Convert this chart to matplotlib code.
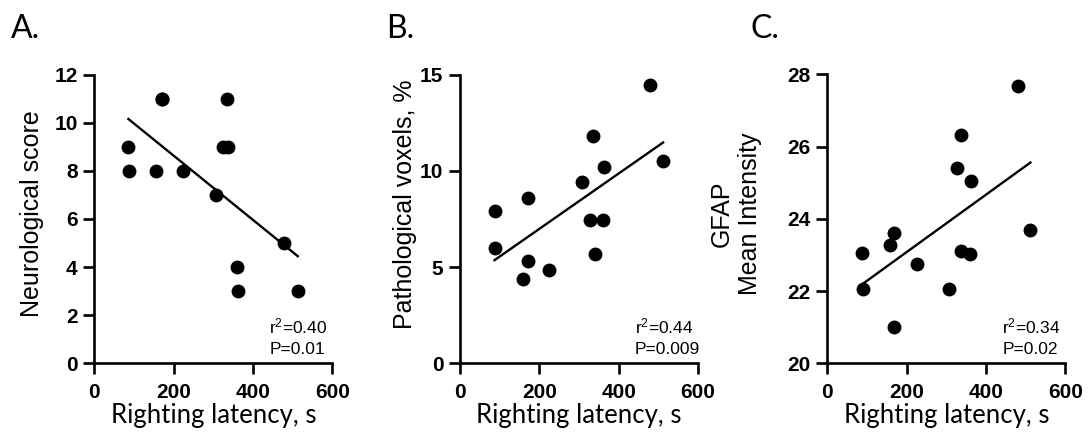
import numpy as np
import matplotlib
matplotlib.use("Agg")
import matplotlib.pyplot as plt

plt.rcParams["mathtext.fontset"] = "custom"
plt.rcParams["mathtext.rm"] = "Liberation Sans"
plt.rcParams["mathtext.it"] = "Liberation Sans"
plt.rcParams["mathtext.bf"] = "Liberation Sans:bold"

# ---- data ----
latency_a = [86, 88, 155, 170, 170, 224, 306, 325, 334, 337, 360, 362, 478, 513]
neuro_score = [9, 8, 8, 11, 11, 8, 7, 9, 11, 9, 4, 3, 5, 3]

latency_b = [87, 89, 158, 172, 172, 225, 308, 327, 336, 340, 361, 363, 480, 512]
path_voxels = [7.9, 6.0, 4.4, 8.6, 5.3, 4.85, 9.4, 7.45, 11.8, 5.7, 7.45, 10.2, 14.45, 10.5]

latency_c = [87, 89, 158, 169, 169, 227, 307, 326, 336, 337, 361, 363, 481, 512]
gfap = [23.05, 22.05, 23.27, 23.61, 21.0, 22.74, 22.05, 25.42, 26.32, 23.12, 23.03, 25.04, 27.67, 23.68]

panel_letters = ["A.", "B.", "C."]
y_labels = ["Neurological score", "Pathological voxels, %", "GFAP\nMean Intensity"]
x_label = "Righting latency, s"
stats = [("r$^{\\mathregular{2}}$=0.40", "P=0.01"),
         ("r$^{\\mathregular{2}}$=0.44", "P=0.009"),
         ("r$^{\\mathregular{2}}$=0.34", "P=0.02")]
x_ticks = [0, 200, 400, 600]
y_ticks = [[0, 2, 4, 6, 8, 10, 12], [0, 5, 10, 15], [20, 22, 24, 26, 28]]
y_lims = [(0, 12), (0, 15), (20, 28)]

W, H = 1088, 433
fig = plt.figure(figsize=(W / 100, H / 100), dpi=100)

lefts = [94.3, 460.0, 827.3]
ax_w = 238.0
ax_top = 74.5
ax_bot = 363.3
ax_h = ax_bot - ax_top

datasets = [(latency_a, neuro_score), (latency_b, path_voxels), (latency_c, gfap)]
letter_x = [11.0, 386.0, 751.0]
# y-label anchor (right edge px, vertical centre px)
ylab_pos = [(44, 214), (417, 204), (762, 214)]

for i, (xs, ys) in enumerate(datasets):
    ax = fig.add_axes([lefts[i] / W, (H - ax_bot) / H, ax_w / W, ax_h / H])
    xs = np.array(xs, float)
    ys = np.array(ys, float)
    ax.scatter(xs, ys, s=100, color="black", zorder=3, linewidths=0)
    m, b = np.polyfit(xs, ys, 1)
    xl = np.array([xs.min(), xs.max()])
    ax.plot(xl, m * xl + b, color="black", lw=1.7, zorder=2)

    ax.set_xlim(0, 600)
    ax.set_ylim(*y_lims[i])
    ax.set_xticks(x_ticks)
    ax.set_yticks(y_ticks[i])
    for s in ["top", "right"]:
        ax.spines[s].set_visible(False)
    for s in ["left", "bottom"]:
        ax.spines[s].set_linewidth(1.9)
    ax.tick_params(direction="out", length=8, width=1.9)
    ax.tick_params(axis="x", pad=6)
    ax.tick_params(axis="y", pad=4)
    for lab in ax.get_xticklabels() + ax.get_yticklabels():
        lab.set_fontfamily("Liberation Sans")
        lab.set_fontweight("bold")
        lab.set_fontsize(15)
    ax.set_xlabel(x_label, fontfamily="Lato", fontsize=18.5, labelpad=1)
    ax.set_ylabel(y_labels[i], fontfamily="Liberation Sans", fontsize=18,
                  linespacing=1.2)
    rx, cy = ylab_pos[i]
    ax.yaxis.set_label_coords((rx - lefts[i]) / ax_w, (ax_bot - cy) / ax_h)
    ax.patch.set_visible(False)

    ax.text(0.735, 0.105, stats[i][0], transform=ax.transAxes, fontfamily="Liberation Sans",
            fontsize=12.5, ha="left", va="baseline")
    ax.text(0.735, 0.032, stats[i][1], transform=ax.transAxes, fontfamily="Liberation Sans",
            fontsize=12.5, ha="left", va="baseline")

    fig.text(letter_x[i] / W, 1 - 38 / H, panel_letters[i], fontfamily="Lato",
             fontsize=23, ha="left", va="baseline")

fig.savefig("out.png", dpi=100)
